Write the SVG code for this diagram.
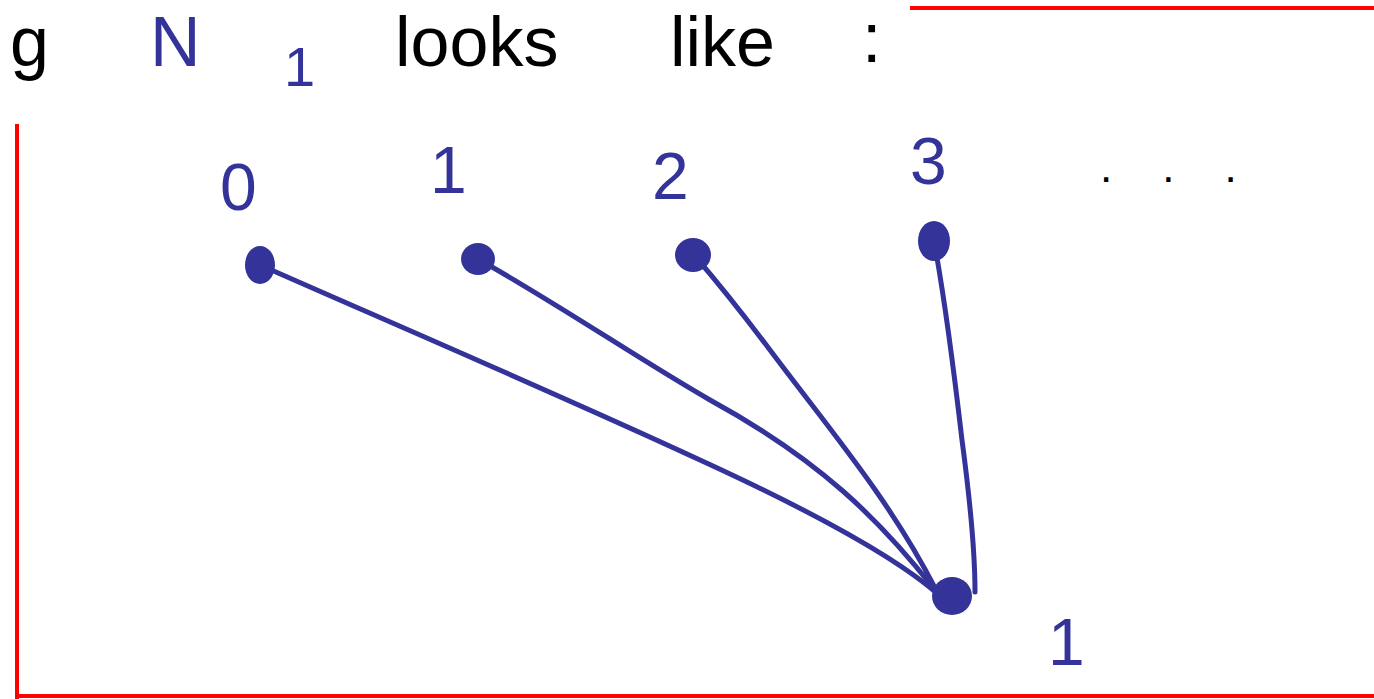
<svg xmlns="http://www.w3.org/2000/svg" width="1374" height="699" viewBox="0 0 1374 699">
<style>
.ink{fill:#333399}
.edge{fill:none;stroke:#333399;stroke-width:5;stroke-linecap:round;stroke-linejoin:round}
.red{fill:none;stroke:#ff0000;stroke-width:4}
.lbl{font-family:"Liberation Sans",Arial,sans-serif;font-size:66px;fill:#333399}
.hdr{font-family:"Liberation Sans",Arial,sans-serif;font-size:70px;fill:#000000}
.hdrb{font-family:"Liberation Sans",Arial,sans-serif;font-size:70px;fill:#333399}
</style>
<rect width="1374" height="699" fill="#ffffff"/>
<g id="frame">
<line class="red" x1="910" y1="8" x2="1374" y2="8"/>
<line class="red" x1="17" y1="124" x2="17" y2="699"/>
<line class="red" x1="17" y1="696" x2="1374" y2="696"/>
</g>
<g id="heading">
<text class="hdr" x="10" y="66">g</text>
<text class="hdrb" x="150" y="66">N</text>
<text class="hdrb" x="284" y="86" style="font-size:56px">1</text>
<text class="hdr" x="395" y="66">looks</text>
<text class="hdr" x="670" y="66">like</text>
<text class="hdr" x="862" y="62">:</text>
</g>
<g id="connectors">
<path class="edge" d="M260,265 C380,318 560,395 700,460 C820,515 900,560 940,596"/>
<path class="edge" d="M478,259 C560,305 640,360 710,400 C820,460 880,520 935,590"/>
<path class="edge" d="M694,255 C720,285 740,310 770,350 C830,430 890,500 935,588"/>
<path class="edge" d="M934,241 C945,300 955,380 962,440 C970,500 975,560 975,592"/>
</g>
<g id="node0">
<ellipse class="ink" cx="260" cy="265" rx="15" ry="19"/>
<text class="lbl" x="220" y="210">0</text>
</g>
<g id="node1">
<ellipse class="ink" cx="478" cy="259" rx="17" ry="16"/>
<text class="lbl" x="430" y="193">1</text>
</g>
<g id="node2">
<ellipse class="ink" cx="693" cy="255" rx="18" ry="17"/>
<text class="lbl" x="652" y="199">2</text>
</g>
<g id="node3">
<ellipse class="ink" cx="934" cy="241" rx="16" ry="20"/>
<text class="lbl" x="910" y="184">3</text>
</g>
<g id="more">
<text x="1100" y="182" style="font-family:'Liberation Sans',Arial,sans-serif;font-size:44px;fill:#000000;letter-spacing:50px">...</text>
</g>
<g id="node1b">
<ellipse class="ink" cx="952" cy="596" rx="20" ry="19"/>
<text class="lbl" x="1048" y="665">1</text>
</g>
</svg>
